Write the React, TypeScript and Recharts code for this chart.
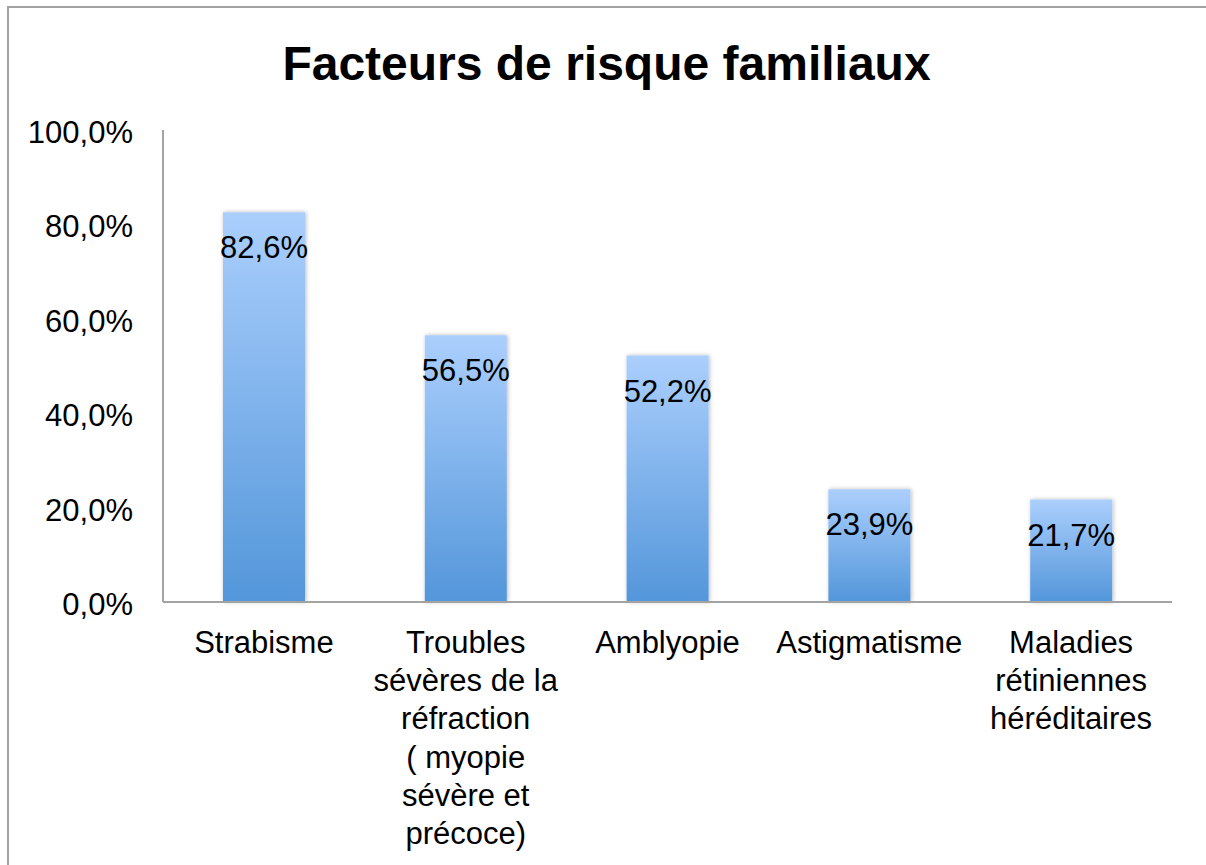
import React from "react";
import { BarChart, Bar, XAxis, YAxis, LabelList } from "recharts";

const categories = [
  "Strabisme",
  "Troubles sévères de la réfraction ( myopie sévère et précoce)",
  "Amblyopie",
  "Astigmatisme",
  "Maladies rétiniennes héréditaires",
];
const values = [82.6, 56.5, 52.2, 23.9, 21.7];
const categoryLines = [
  ["Strabisme"],
  ["Troubles", "sévères de la", "réfraction", "( myopie", "sévère et", "précoce)"],
  ["Amblyopie"],
  ["Astigmatisme"],
  ["Maladies", "rétiniennes", "héréditaires"],
];
const yTicks = [0, 20, 40, 60, 80, 100];
const title = "Facteurs de risque familiaux";

const data = categories.map((c, i) => ({ name: c, value: values[i], idx: i }));

const FONT = '"Liberation Sans", Arial, sans-serif';
const fmt = (v: number) => v.toFixed(1).replace(".", ",") + "%";

const YTick = (props: any) => {
  const { x, y, payload } = props;
  return (
    <text x={x} y={y} dy={13} textAnchor="end" fontFamily={FONT} fontSize={31} fill="#000">
      {fmt(payload.value)}
    </text>
  );
};

const XTick = (props: any) => {
  const { x, y, payload } = props;
  const lines = categoryLines[payload.index] || [payload.value];
  return (
    <text x={x} y={y} textAnchor="middle" fontFamily={FONT} fontSize={31} fill="#000">
      {lines.map((l, i) => (
        <tspan key={i} x={x} y={y + 51 + i * 38.2}>
          {l}
        </tspan>
      ))}
    </text>
  );
};

const BarLabel = (props: any) => {
  const { x, y, width, value } = props;
  return (
    <text x={x + width / 2} y={y + 46} textAnchor="middle" fontFamily={FONT} fontSize={31} fill="#000">
      {fmt(value)}
    </text>
  );
};

export default function App() {
  return (
    <div style={{ position: "absolute", left: 0, top: 0, width: 1206, height: 865, background: "#fff", overflow: "hidden" }}>
      <div
        style={{
          position: "absolute",
          left: 7,
          top: 6,
          right: 0,
          bottom: 0,
          borderTop: "2px solid #a3a3a3",
          borderLeft: "2px solid #a3a3a3",
        }}
      />
      <svg width={1206} height={110} style={{ position: "absolute", left: 0, top: 0 }}>
        <text x={606.5} y={80} textAnchor="middle" fontFamily={FONT} fontWeight="bold" fontSize={48} fill="#000">
          {title}
        </text>
      </svg>
      <div style={{ position: "absolute", left: 0, top: 0 }}>
        <BarChart
          width={1206}
          height={865}
          data={data}
          margin={{ top: 130, right: 34, bottom: 0, left: 0 }}
          barCategoryGap={0}
        >
          <defs>
            <linearGradient id="barGrad" x1="0" y1="0" x2="0" y2="1">
              <stop offset="0%" stopColor="#abcffd" />
              <stop offset="100%" stopColor="#5396da" />
            </linearGradient>
            <filter id="barShadow" x="-20%" y="-5%" width="140%" height="110%">
              <feDropShadow dx="1" dy="0" stdDeviation="2" floodColor="#000" floodOpacity="0.28" />
            </filter>
          </defs>
          <XAxis
            dataKey="name"
            height={263}
            interval={0}
            tickLine={false}
            tickSize={0}
            tickMargin={0}
            axisLine={{ stroke: "#a3a3a3", strokeWidth: 2 }}
            tick={<XTick />}
          />
          <YAxis
            width={163}
            domain={[0, 100]}
            ticks={yTicks}
            interval={0}
            tickLine={false}
            tickSize={0}
            tickMargin={30}
            axisLine={{ stroke: "#a3a3a3", strokeWidth: 2 }}
            tick={<YTick />}
          />
          <Bar dataKey="value" barSize={82} fill="url(#barGrad)" filter="url(#barShadow)" isAnimationActive={false}>
            <LabelList dataKey="value" content={<BarLabel />} />
          </Bar>
        </BarChart>
      </div>
    </div>
  );
}
